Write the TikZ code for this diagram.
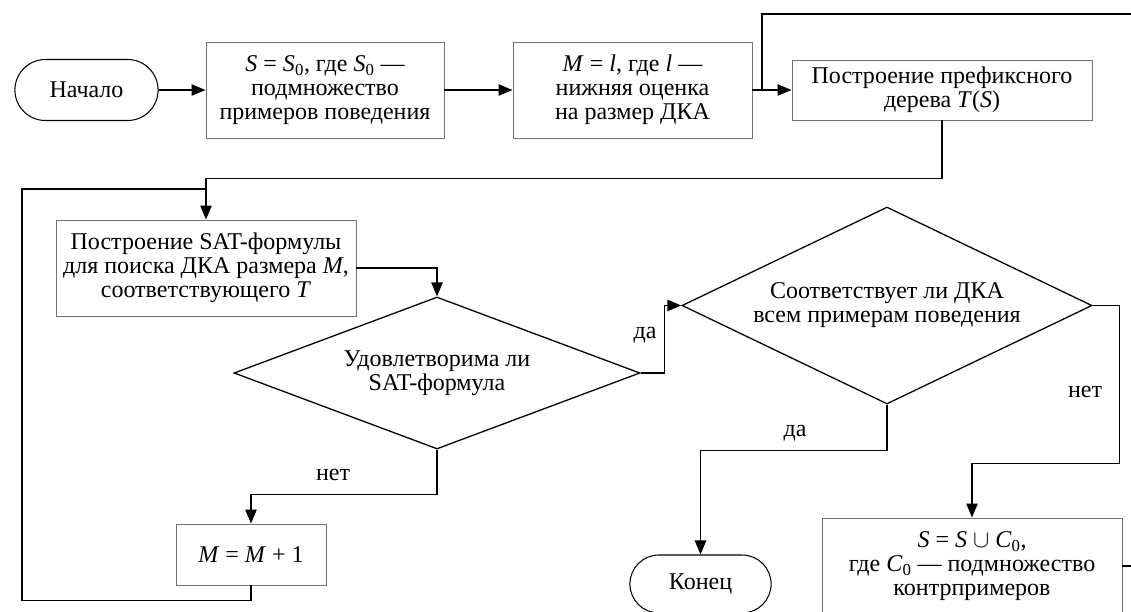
\documentclass[tikz,border=0pt]{standalone}
\usepackage{fontspec}
\setmainfont{Liberation Serif}
\usetikzlibrary{positioning,arrows.meta,shapes.geometric,shapes.misc}

\begin{document}
\begin{tikzpicture}[x=0.03cm, y=-0.03cm,
  every node/.style={font=\fontsize{20.5}{20.5}\selectfont},
  term/.style={rounded rectangle, draw, line width=0.9pt, minimum width=4.53cm, minimum height=1.83cm},
  box/.style={rectangle, draw=black!55, line width=0.8pt, align=center, inner sep=1pt},
  cond/.style={diamond, draw, line width=1.1pt, align=center, inner sep=0pt},
  link/.style={line width=1.4pt},
  arr/.style={link, -{Triangle[length=0.42cm, width=0.34cm]}}]
\clip (0,0) rectangle (1131,611);

\node[term] (start) at (86.5,90) {Начало};
\node[box, minimum width=7.14cm, minimum height=2.88cm] (init) at (325,90) {\textit{S} = \textit{S}\textsubscript{0}, где \textit{S}\textsubscript{0} —\\подмножество\\примеров поведения};
\node[box, minimum width=7.17cm, minimum height=2.88cm] (lower) at (632.5,90) {\textit{M} = \textit{l}, где \textit{l} —\\нижняя оценка\\на размер ДКА};
\node[box, minimum width=9cm, minimum height=1.8cm] (tree) at (942,90) {Построение префиксного\\дерева \textit{T}(\textit{S})};
\node[box, minimum width=9cm, minimum height=2.88cm] (sat) at (206,268) {Построение SAT-формулы\\для поиска ДКА размера \textit{M},\\соответствующего \textit{T}};
\node[cond, minimum width=12.18cm, minimum height=4.56cm, aspect=2.6] (solv) at (437,373) {Удовлетворима ли\\SAT-формула};
\node[cond, minimum width=12.3cm, minimum height=5.91cm, aspect=2.1] (check) at (887,305.5) {Соответствует ли ДКА\\всем примерам поведения};
\node[box, minimum width=4.5cm, minimum height=1.83cm] (inc) at (251,554.5) {\textit{M} = \textit{M} + 1};
\node[term, minimum width=4.47cm, minimum height=1.74cm] (stop) at (700.5,584) {Конец};
\node[box, minimum width=9cm, minimum height=2.88cm] (add) at (972,566) {\textit{S} = \textit{S} $\cup$ \textit{C}\textsubscript{0},\\где \textit{C}\textsubscript{0} — подмножество\\контрпримеров};

\coordinate (j1) at (762,90);
\coordinate (j2) at (206,189);

\draw[arr] (start) -- (init);
\draw[arr] (init) -- (lower);
\draw[arr] (lower) -- (tree);
\draw[arr] (tree.south) -- ++(0,58) -| (sat.north);
\draw[link] (inc.south) -- ++(0,15) -| (22,189) -- (j2);
\draw[arr] (sat.east) -| (solv.north);
\draw[arr] (solv.east) -- ++(24,0) |- (check.west);
\draw[arr] (solv.south) -- ++(0,45) -| (inc.north);
\draw[arr] (check.south) -- ++(0,46) -| (stop.north);
\draw[arr] (check.east) -- ++(27,0) -- ++(0,158) -| (add.north);
\draw[link] (add.east) -- ++(30,0) |- (762,14) -- (j1);

\node (yes1) at (645,335) {да};
\node (no1) at (333,475) {нет};
\node (yes2) at (795,433) {да};
\node (no2) at (1085,392) {нет};
\end{tikzpicture}
\end{document}
